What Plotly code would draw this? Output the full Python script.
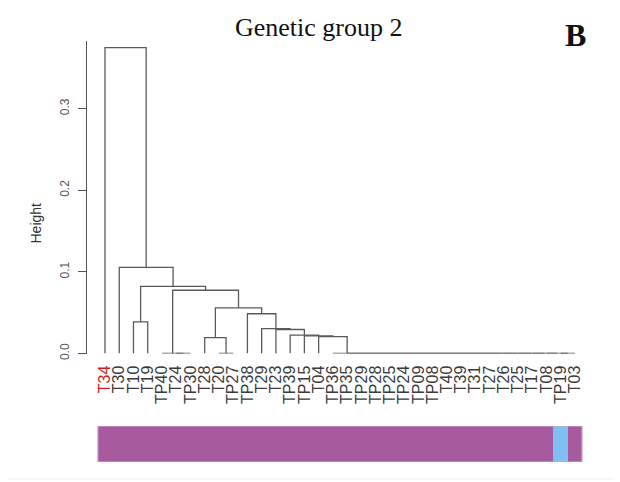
import plotly.graph_objects as go

# ---------------- data ----------------
leaf_labels = ["T34", "T30", "T10", "T19", "TP40", "T24", "TP30", "T28", "T20", "TP27",
               "TP38", "T29", "T23", "TP39", "TP15", "T04", "TP36", "TP35", "TP29", "TP28",
               "TP25", "TP24", "TP09", "TP08", "T40", "T39", "T31", "T27", "T26", "T25",
               "T17", "T08", "TP19", "T03"]

# merge nodes: name, left child, right child, height
node_names = ["z17", "z16", "z15", "z14", "z13", "z12", "z11", "z10", "z9", "z8", "z7", "z6",
              "z5", "z4", "z3", "z2", "z1",
              "n1", "n2", "n3", "n4", "n5", "G", "E", "F", "C", "B1", "B", "D", "A", "K", "L", "root"]
node_left = ["TP19", "T08", "T17", "T25", "T26", "T27", "T31", "T39", "T40", "TP08", "TP09", "TP24",
             "TP25", "TP28", "TP29", "TP35", "TP36",
             "T04", "TP15", "TP39", "T23", "T29", "TP38", "T20", "T28", "F", "T24", "TP40", "B", "T10", "A", "T30", "T34"]
node_right = ["T03", "z17", "z16", "z15", "z14", "z13", "z12", "z11", "z10", "z9", "z8", "z7",
              "z6", "z5", "z4", "z3", "z2",
              "z1", "n1", "n2", "n3", "n4", "n5", "TP27", "E", "G", "TP30", "B1", "C", "T19", "D", "K", "L"]
node_height = [0.0] * 17 + [0.0208, 0.0215, 0.0226, 0.0294, 0.0306, 0.0487, 0.0, 0.0195, 0.0560,
                            0.0, 0.0, 0.0775, 0.0388, 0.0822, 0.1055, 0.375]

# genetic group membership of each leaf (colour bar)
leaf_group = [1] * 32 + [2, 1]

# y-axis ticks
y_ticks = [0.0, 0.1, 0.2, 0.3]
y_tick_text = ["0.0", "0.1", "0.2", "0.3"]

# ---------------- dendrogram geometry ----------------
pos = {lab: i + 1 for i, lab in enumerate(leaf_labels)}
hgt = {lab: 0.0 for lab in leaf_labels}
for nm, l, r, h in zip(node_names, node_left, node_right, node_height):
    pos[nm] = (pos[l] + pos[r]) / 2.0
    hgt[nm] = h

seg_x, seg_y = [], []
for nm, l, r, h in zip(node_names, node_left, node_right, node_height):
    seg_x += [pos[l], pos[l], pos[r], pos[r], None]
    seg_y += [hgt[l], h, h, hgt[r], None]

LINE = "#5a5a5a"
fig = go.Figure()
fig.add_trace(go.Scatter(x=seg_x, y=seg_y, mode="lines",
                         line=dict(color=LINE, width=1.3), hoverinfo="skip",
                         showlegend=False, xaxis="x", yaxis="y"))

fig.add_trace(go.Heatmap(x=list(range(1, len(leaf_labels) + 1)), y=[0], z=[leaf_group],
                         zmin=1, zmax=2,
                         colorscale=[[0, "#a85a9f"], [0.5, "#a85a9f"], [0.5, "#80bff2"], [1, "#80bff2"]],
                         showscale=False, xaxis="x", yaxis="y2", hoverinfo="skip"))

n = len(leaf_labels)
fig.add_shape(type="rect", xref="x", yref="y2", x0=0.5, x1=n + 0.5, y0=-0.5, y1=0.5,
              line=dict(color="#d8a6d1", width=1), fillcolor="rgba(0,0,0,0)")

tick_text = ["<span style='color:#d0201c'>%s</span>" % t if t == "T34" else t for t in leaf_labels]

# ---------------- layout ----------------
W, H = 620, 482
OFF = 8                      # page offset of the figure inside the browser window
PL, PT, PR, PB = 87, 41, 600, 462   # plot area on screen
plot_w = PR - PL
plot_h = PB - PT
L_PX, T_PX = PL - OFF, PT - OFF
R_PX, B_PX = W - L_PX - plot_w, H - T_PX - plot_h

scale = 470.0 / 33.0
xa = 1 - 18.0 / scale
xb = xa + plot_w / scale


def px(sx):
    return (sx - PL) / plot_w


def py(sy):
    return 1 - (sy - PT) / plot_h


fig.add_shape(type="line", xref="paper", yref="paper", x0=px(0), x1=px(620), y0=py(479), y1=py(479),
              line=dict(color="#ececec", width=1))

fig.update_layout(
    width=W, height=H,
    margin=dict(l=L_PX, r=R_PX, t=T_PX, b=B_PX, pad=0),
    paper_bgcolor="white", plot_bgcolor="white",
    font=dict(family="Liberation Sans, Arial, sans-serif", color="#333333"),
    xaxis=dict(range=[xa, xb], anchor="y", tickmode="array",
               tickvals=list(range(1, n + 1)), ticktext=tick_text, tickangle=-90,
               tickfont=dict(size=16, color="#3a3a3a"), showgrid=False, zeroline=False,
               showline=False, ticks="", ticklabelstandoff=8),
    yaxis=dict(domain=[py(353.5), 1], range=[0, 0.383],
               tickmode="array", tickvals=y_ticks, ticktext=y_tick_text, tickangle=-90,
               tickfont=dict(size=12, color="#555555"), ticks="outside", ticklen=8,
               tickcolor="#555555", showline=True, linecolor="#555555", linewidth=1,
               showgrid=False, zeroline=False, ticklabelstandoff=4),
    yaxis2=dict(domain=[0, py(426)], range=[-0.5, 0.5],
                showticklabels=False, showgrid=False, zeroline=False, showline=False, ticks=""),
    annotations=[
        dict(text="Genetic group 2", xref="paper", yref="paper",
             x=px(319), y=py(28), showarrow=False,
             xanchor="center", yanchor="middle",
             font=dict(family="Liberation Serif, Times New Roman, serif", size=26, color="#111111")),
        dict(text="<b>B</b>", xref="paper", yref="paper",
             x=px(575), y=py(35), showarrow=False,
             xanchor="center", yanchor="middle",
             font=dict(family="Liberation Serif, Times New Roman, serif", size=32, color="#111111")),
        dict(text="Height", xref="paper", yref="paper",
             x=px(35), y=py(223.5), showarrow=False,
             textangle=-90, xanchor="center", yanchor="middle",
             font=dict(size=14, color="#333333")),
    ],
)

fig.write_html("out.html")
